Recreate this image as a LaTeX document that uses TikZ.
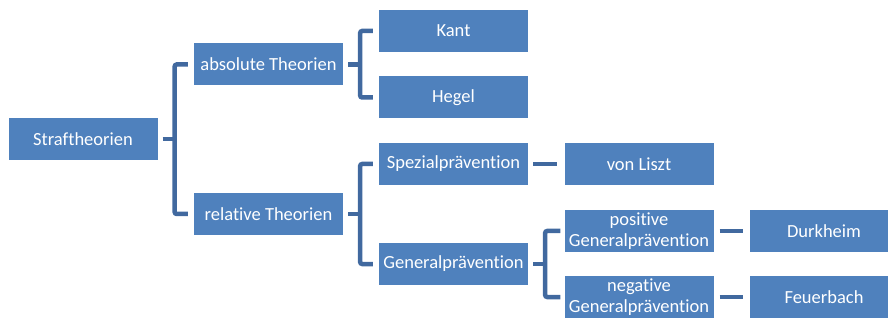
\documentclass[tikz,border=0pt]{standalone}
\usepackage{fontspec}
\setmainfont{Carlito}[RawFeature={-liga}]
\usepackage{xcolor}
\definecolor{boxblue}{HTML}{4F81BD}
\definecolor{linkblue}{HTML}{41699F}

\begin{document}
\begin{tikzpicture}[x=1pt, y=-1pt,
    every node/.style={rectangle, fill=boxblue, text=white, minimum width=149pt, minimum height=42pt, inner sep=0pt, align=center, font=\fontsize{18.5}{20.5}\selectfont},
    link/.style={draw=linkblue, line width=4.5pt, rounded corners=2pt}]
          \clip (0,0) rectangle (888,320);
          % Nodes
          \node (root) at (83,139) {Straftheorien};
          \node (abs) at (268.5,64.5) {absolute Theorien};
          \node (rel) at (268.5,214) {relative Theorien};
          \node (kant) at (453.5,31) {Kant};
          \node (hegel) at (453.5,97.5) {Hegel};
          \node (spez) at (453.5,164) {Spezialprävention};
          \node (gp) at (453.5,264) {Generalprävention};
          \node (liszt) at (639,164) {von Liszt};
          \node (pos) at (639,231) {positive\\Generalprävention};
          \node (neg) at (639,297) {negative\\Generalprävention};
          \node[minimum width=148pt] (durk) at (824,231) {Durkheim};
          \node[minimum width=148pt] (feuer) at (824,297) {Feuerbach};

          % Edges
          \draw[link] ([xshift=5pt]root.east) -- ([xshift=17pt]root.east);
          \draw[link] ([xshift=-6pt]abs.west) -| ([xshift=17pt]root.east) |- ([xshift=-6pt]rel.west);
          \draw[link] ([xshift=5pt]abs.east) -- ([xshift=17pt]abs.east);
          \draw[link] ([xshift=-6pt]kant.west) -| ([xshift=17pt]abs.east) |- ([xshift=-6pt]hegel.west);
          \draw[link] ([xshift=5pt]rel.east) -- ([xshift=17pt]rel.east);
          \draw[link] ([xshift=-6pt]spez.west) -| ([xshift=17pt]rel.east) |- ([xshift=-6pt]gp.west);
          \draw[link] ([xshift=5pt]spez.east) -- ([xshift=-7pt]liszt.west);
          \draw[link] ([xshift=5pt]gp.east) -- ([xshift=17pt]gp.east);
          \draw[link] ([xshift=-4pt]pos.west) -| ([xshift=17pt]gp.east) |- ([xshift=-4pt]neg.west);
          \draw[link] ([xshift=6pt]pos.east) -- ([xshift=-7pt]durk.west);
          \draw[link] ([xshift=6pt]neg.east) -- ([xshift=-7pt]feuer.west);
      \end{tikzpicture}
\end{document}
